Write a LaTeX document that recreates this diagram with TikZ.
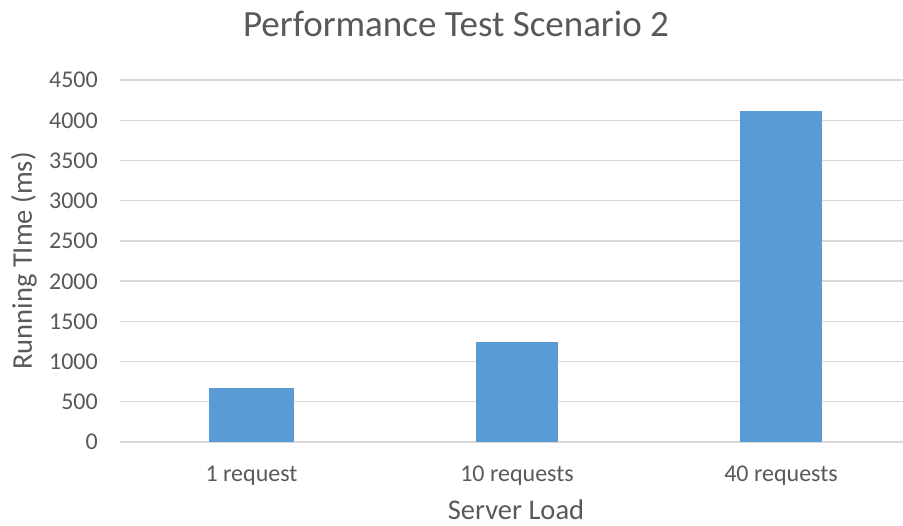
\documentclass[tikz,border=0pt]{standalone}
\usepackage{fontspec}
\setmainfont{Carlito}
\definecolor{barblue}{HTML}{5B9BD5}
\definecolor{gridgray}{HTML}{D9D9D9}
\definecolor{textgray}{HTML}{595959}
\begin{document}
\begin{tikzpicture}[x=1pt,y=1pt,
  gridline/.style={draw=gridgray,line width=1.4pt},
  databar/.style={fill=barblue,draw=none},
  ticklabel/.style={text=textgray,font=\fontsize{24}{28}\selectfont,inner sep=0pt,anchor=base east},
  catlabel/.style={text=textgray,font=\fontsize{24}{28}\selectfont,inner sep=0pt,anchor=base},
  axistitle/.style={text=textgray,font=\fontsize{28.5}{32}\selectfont,inner sep=0pt},
  charttitle/.style={text=textgray,font=\fontsize{37}{40}\selectfont,inner sep=0pt,anchor=base}]
  \useasboundingbox[fill=white] (0,0) rectangle (903,526);
  % chart title
  \node[charttitle] (title) at (456,489) {Performance Test Scenario 2};
  % value axis: grid lines every 500 ms with labels
  \begin{scope}[shift={(0,84)},y=0.080444pt]
    \foreach \v in {0,500,...,4500}{
      \draw[gridline] (120,\v) -- (903,\v);
      \node[ticklabel] at (98,\v) [yshift=-8pt] {\v};
    }
    % bars
    \fill[databar] (209,0) rectangle (294,670)  coordinate (b1);
    \fill[databar] (476,0) rectangle (558,1245) coordinate (b2);
    \fill[databar] (740,0) rectangle (822,4110) coordinate (b3);
  \end{scope}
  % category labels
  \node[catlabel] (c1) at (251.5,44) {1 request};
  \node[catlabel] (c2) at (517,44) {10 requests};
  \node[catlabel] (c3) at (781,44) {40 requests};
  % axis titles
  \node[axistitle,anchor=base] (xt) at (516,6) {Server Load};
  \node[axistitle,rotate=90] (yt) at (24,265) {Running TIme (ms)};
\end{tikzpicture}
\end{document}
